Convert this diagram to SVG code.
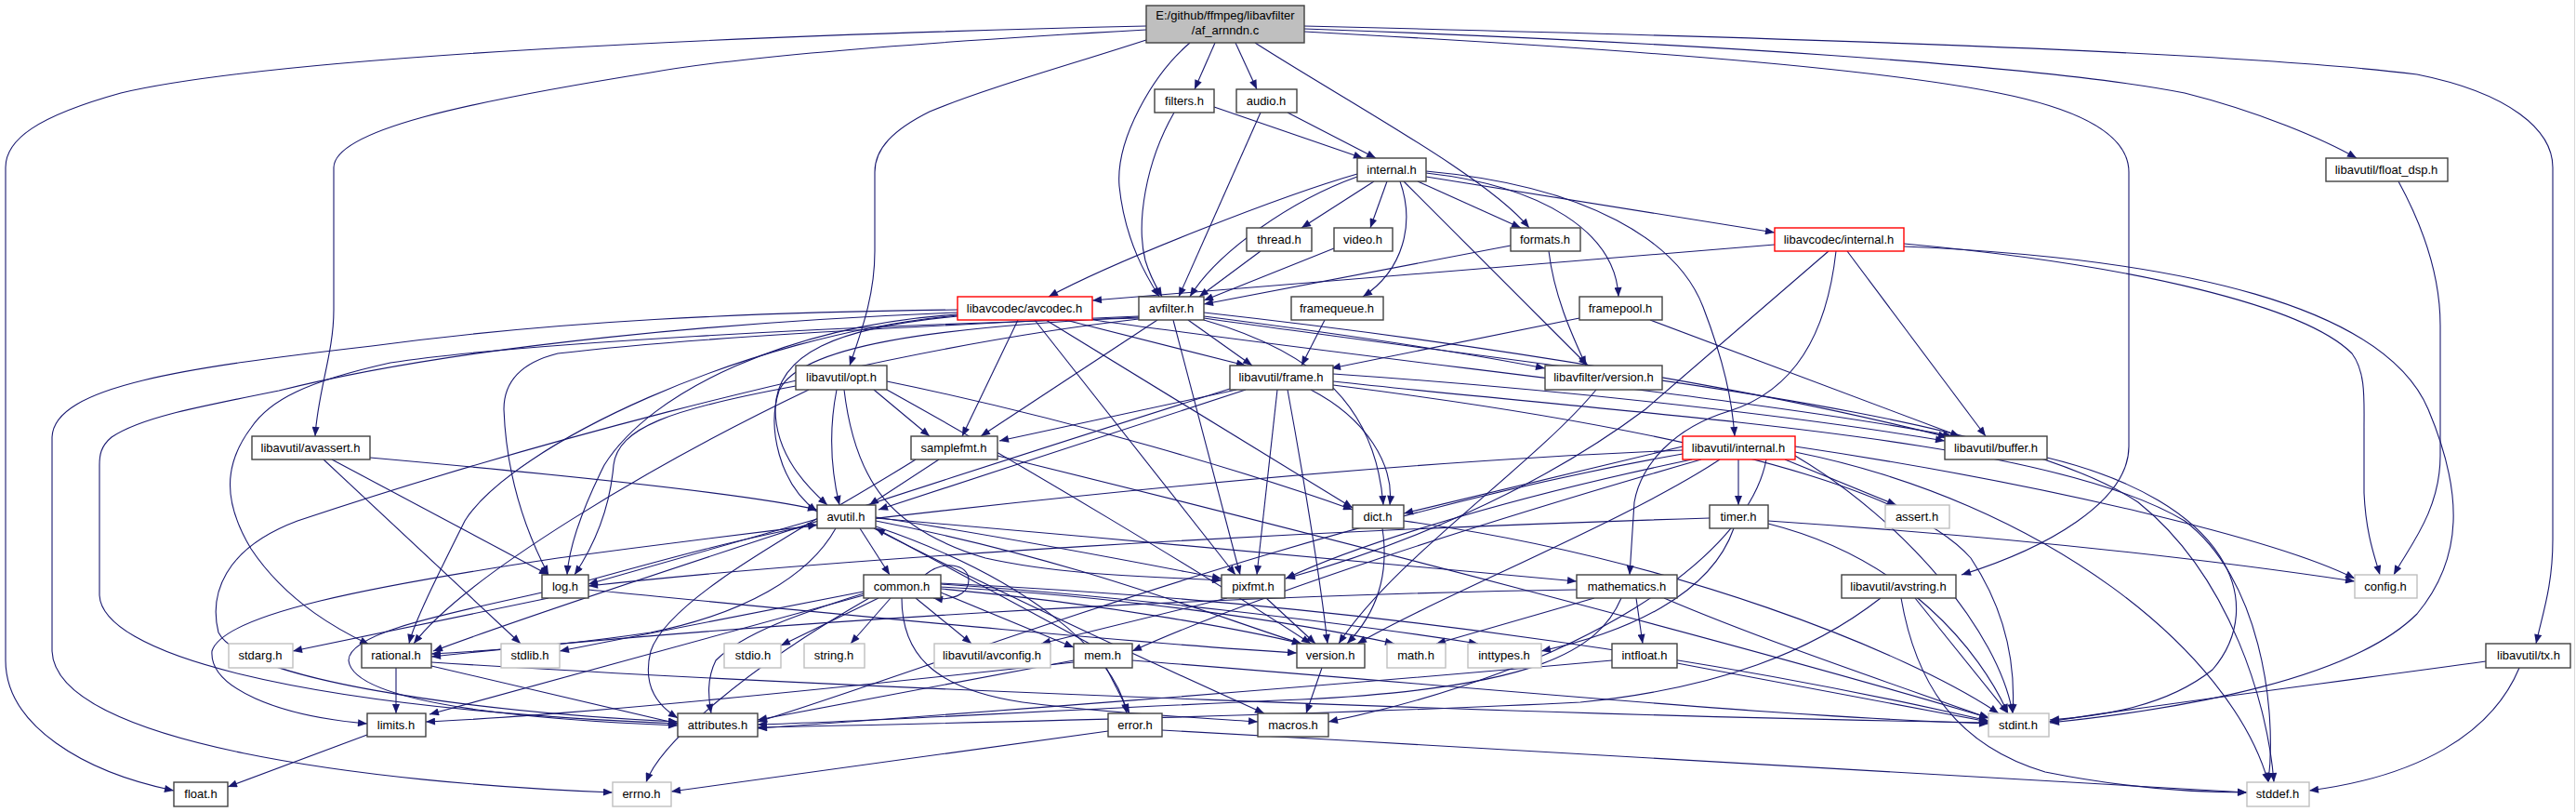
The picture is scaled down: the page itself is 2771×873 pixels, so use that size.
<svg xmlns="http://www.w3.org/2000/svg" width="2771" height="873" viewBox="0 0 2771 873">
<style>
.n rect{fill:#ffffff;stroke:#404040;stroke-width:1.4}
.g rect{stroke:#bfbfbf}
.r rect{stroke:#ff0000}
.root rect{fill:#bfbfbf}
text{font-family:"Liberation Sans",Arial,sans-serif;font-size:13px;text-anchor:middle;fill:#000000}
#edges path{fill:none;stroke:#191970;stroke-width:1.1;marker-end:url(#a)}
</style>
<defs>
<marker id="a" viewBox="0 0 10 8" refX="10" refY="4" markerWidth="11" markerHeight="8" markerUnits="userSpaceOnUse" orient="auto">
<path d="M0,0 L10,4 L0,8 z" fill="#191970"/>
</marker>
</defs>
<rect x="0" y="0" width="2771" height="873" fill="#ffffff"/>
<line x1="2769.5" y1="0" x2="2769.5" y2="873" stroke="#d8d8d8" stroke-width="1"/>
<g id="edges">
<!-- root -->
<path d="M1233,28 C800,38 300,60 130,100 C40,125 6,150 6,180 L6,710 C6,780 90,830 187,850"/>
<path d="M1233,32 C1000,45 800,60 700,78 C500,110 360,140 359,180 L359,333 C359,380 342,420 339,469"/>
<path d="M1233,43 C1150,70 1060,95 1000,120 C960,140 941,160 941,185 L941,270 C941,320 925,360 914,393"/>
<path d="M1280,46 C1240,80 1200,150 1204,200 C1210,260 1235,300 1247,319"/>
<path d="M1307,46 L1285,96"/>
<path d="M1329,46 L1352,96"/>
<path d="M1350,46 C1450,110 1600,190 1645,245"/>
<path d="M1403,28 C1900,40 2400,55 2600,80 C2700,100 2746,140 2746,180 L2746,580 C2746,630 2735,660 2728,692"/>
<path d="M1403,31 C1800,45 2200,70 2350,100 C2430,120 2500,150 2535,170"/>
<path d="M1403,34 C1700,50 2000,70 2150,100 C2250,120 2290,150 2290,185 L2290,480 C2290,540 2200,590 2110,618"/>
<!-- filters / audio -->
<path d="M1263,121 C1232,175 1222,240 1232,280 C1238,300 1246,312 1250,319"/>
<path d="M1306,115 L1466,170"/>
<path d="M1356,121 L1268,319"/>
<path d="M1385,121 L1480,170"/>
<!-- internal.h -->
<path d="M1460,190 C1390,215 1310,270 1280,319"/>
<path d="M1460,187 C1380,210 1200,280 1128,319"/>
<path d="M1478,195 L1400,245"/>
<path d="M1492,195 L1474,245"/>
<path d="M1506,195 C1522,240 1510,290 1466,319"/>
<path d="M1510,195 L1708,393"/>
<path d="M1525,195 L1636,245"/>
<path d="M1534,186 C1660,200 1738,250 1741,319"/>
<path d="M1534,190 L1909,250"/>
<path d="M1534,184 C1710,200 1805,260 1832,330 C1855,390 1863,430 1866,469"/>
<!-- thread, video, formats -->
<path d="M1356,270 L1290,319"/>
<path d="M1435,267 L1295,323"/>
<path d="M1625,264 L1295,327"/>
<path d="M1666,270 C1672,320 1692,362 1706,393"/>
<!-- libavcodec/internal.h -->
<path d="M1909,263 L1175,323"/>
<path d="M1987,270 L2136,469"/>
<path d="M2048,262 C2300,285 2480,330 2530,380 C2545,400 2543,430 2543,460 L2543,530 C2545,575 2555,600 2560,618"/>
<path d="M2048,265 C2350,278 2565,330 2612,440 C2650,530 2650,600 2600,660 C2530,730 2350,762 2205,777"/>
<path d="M1975,270 C1965,360 1930,420 1860,442 C1800,460 1765,500 1758,540 L1753,618"/>
<path d="M1967,270 L1770,440 C1650,530 1500,590 1383,622"/>
<!-- libavcodec/avcodec.h -->
<path d="M1030,333 C800,336 600,345 400,372 C200,395 58,415 56,470 L56,700 C60,800 400,842 659,852"/>
<path d="M1030,336 C800,345 500,370 300,420 C200,440 150,450 120,470 C108,480 107,490 107,500 L107,640 C110,700 300,760 729,778"/>
<path d="M1095,344 L1035,469"/>
<path d="M1030,340 C900,352 835,380 834,440 C834,490 870,525 890,543"/>
<path d="M1030,338 C850,350 700,420 650,500 C625,550 612,590 610,618"/>
<path d="M1030,339 C800,360 550,480 500,560 C470,620 445,670 440,692"/>
<path d="M1113,344 L1329,618"/>
<path d="M1125,344 L1455,546"/>
<path d="M1146,344 L1340,393"/>
<path d="M1169,343 C1500,390 1900,430 2100,469"/>
<!-- avfilter.h -->
<path d="M1225,341 C1000,352 860,372 838,420 C825,460 838,520 879,550"/>
<path d="M1225,340 C1000,350 750,362 600,380 C560,390 542,410 542,440 C545,520 570,580 590,618"/>
<path d="M1225,342 C900,350 550,370 420,390 C330,410 290,430 270,460 C240,500 240,540 270,590 C310,650 370,680 397,693"/>
<path d="M1225,343 C900,380 500,500 320,560 C240,590 225,640 235,680 C260,730 500,765 729,776"/>
<path d="M1245,344 L1055,469"/>
<path d="M1262,344 L1334,618"/>
<path d="M1278,344 L1347,393"/>
<path d="M1295,340 C1450,360 1580,380 1662,396"/>
<path d="M1295,344 C1420,380 1480,440 1488,543"/>
<path d="M1295,342 C1700,400 2150,440 2300,540 C2400,620 2440,760 2446,841"/>
<path d="M1295,336 C1600,370 1900,420 2095,470"/>
<!-- framequeue, framepool -->
<path d="M1425,344 L1400,393"/>
<path d="M1775,344 L2108,469"/>
<path d="M1699,342 L1432,396"/>
<!-- opt.h -->
<path d="M870,419 C700,500 500,620 445,692"/>
<path d="M900,419 C890,470 895,510 903,543"/>
<path d="M954,410 C1150,450 1350,510 1455,548"/>
<path d="M856,415 C720,440 665,460 660,500 C655,560 630,600 618,618"/>
<path d="M908,419 C920,520 960,570 1060,600 C1150,620 1250,620 1314,624"/>
<path d="M940,419 L1000,469"/>
<path d="M954,419 C1100,500 1300,620 1410,692"/>
<!-- frame.h -->
<path d="M1434,410 C1800,450 2200,470 2350,560 C2430,620 2450,760 2440,841"/>
<path d="M1434,414 C1800,460 2050,520 2120,600 C2160,660 2168,720 2165,767"/>
<path d="M1340,419 L945,548"/>
<path d="M1434,402 C1700,420 1950,450 2092,474"/>
<path d="M1410,419 C1470,450 1500,500 1495,543"/>
<path d="M1323,418 C1000,520 600,650 466,700"/>
<path d="M1330,419 L1075,474"/>
<path d="M1374,419 L1352,618"/>
<path d="M1385,419 C1400,500 1420,620 1428,692"/>
<!-- libavfilter/version.h -->
<path d="M1717,419 C1650,500 1500,600 1440,692"/>
<!-- avassert.h -->
<path d="M348,494 L560,692"/>
<path d="M398,492 C600,510 800,530 879,548"/>
<path d="M357,494 L590,618"/>
<!-- samplefmt.h -->
<path d="M1073,490 C1400,570 1900,700 2140,772"/>
<path d="M1010,494 L935,543"/>
<path d="M985,494 C880,560 720,640 700,700 C690,740 710,760 729,772"/>
<!-- libavutil/internal.h -->
<path d="M1810,484 C1400,500 900,560 600,600 C400,630 240,660 228,700 C225,740 300,770 395,778"/>
<path d="M1931,490 C2050,560 2150,680 2165,767"/>
<path d="M1931,486 C2200,540 2400,700 2440,841"/>
<path d="M1920,494 L2040,543"/>
<path d="M1931,480 C2200,520 2450,580 2533,622"/>
<path d="M1810,488 C1400,560 1000,720 815,776"/>
<path d="M1870,494 L1870,543"/>
<path d="M1810,480 L1510,552"/>
<path d="M1900,494 C1880,600 1700,720 1429,776"/>
<path d="M1830,494 C1600,560 1350,640 1218,700"/>
<path d="M1820,494 C1600,540 1450,590 1383,622"/>
<path d="M1850,494 C1750,560 1550,640 1460,692"/>
<!-- buffer.h -->
<path d="M2202,492 C2400,540 2440,650 2380,720 C2330,760 2260,770 2205,774"/>
<!-- avutil.h -->
<path d="M925,568 L957,618"/>
<path d="M942,566 C1100,620 1200,700 1212,767"/>
<path d="M899,568 C870,620 800,660 700,680 C600,695 520,700 464,703"/>
<path d="M942,560 C1150,600 1300,660 1400,692"/>
<path d="M940,568 C1100,650 1300,740 1360,767"/>
<path d="M942,557 C1200,580 1500,605 1696,625"/>
<path d="M879,558 L633,628"/>
<path d="M942,556 C1100,580 1250,610 1314,622"/>
<!-- dict.h -->
<path d="M1510,560 C1800,600 2050,700 2150,767"/>
<path d="M1487,568 C1495,620 1480,660 1449,692"/>
<!-- timer.h -->
<path d="M1902,560 C2200,580 2400,605 2533,625"/>
<path d="M1865,568 C1840,640 1750,680 1658,700"/>
<path d="M1902,563 C2050,600 2130,700 2160,767"/>
<path d="M1839,557 C1400,570 900,600 633,630"/>
<!-- log.h -->
<path d="M590,643 L315,700"/>
<path d="M633,624 C720,600 800,578 879,564"/>
<path d="M583,637 C480,660 375,680 375,710 C380,760 600,775 729,780"/>
<path d="M633,634 C900,660 1200,690 1395,702"/>
<!-- common.h -->
<path d="M935,643 C800,720 710,800 695,841"/>
<path d="M1012,628 C1200,640 1450,670 1590,692"/>
<path d="M929,640 L462,768"/>
<path d="M1012,631 C1200,640 1400,670 1500,692"/>
<path d="M1012,627 C1500,650 1900,720 2139,775"/>
<path d="M945,643 L840,694"/>
<path d="M929,636 L602,700"/>
<path d="M958,643 L915,692"/>
<path d="M929,638 C860,660 800,680 770,710 C760,730 762,750 765,767"/>
<path d="M970,643 C970,700 1000,740 1100,755 C1200,768 1300,772 1353,776"/>
<path d="M1012,633 C1200,650 1350,680 1400,692"/>
<path d="M985,643 L1045,692"/>
<path d="M1012,637 L1155,696"/>
<path d="M995,618 C1015,602 1042,606 1042,624 C1042,640 1022,646 1004,643"/>
<!-- pixfmt.h -->
<path d="M1320,643 L1120,692"/>
<path d="M1362,643 L1415,692"/>
<!-- mathematics.h -->
<path d="M1790,643 C1900,690 2050,740 2139,772"/>
<path d="M1715,643 L1545,692"/>
<path d="M1744,643 C1720,700 1650,740 1400,752 C1100,765 950,775 815,779"/>
<path d="M1696,634 C1300,640 800,670 464,706"/>
<path d="M1760,643 L1767,692"/>
<!-- avstring.h -->
<path d="M2045,643 C2060,730 2100,800 2200,830 C2300,850 2380,852 2417,852"/>
<path d="M2060,643 L2160,767"/>
<path d="M2023,643 C1950,700 1850,740 1700,755 C1400,770 1000,778 815,782"/>
<!-- rational.h -->
<path d="M464,712 C900,740 1700,770 2139,777"/>
<path d="M426,718 L426,767"/>
<path d="M464,716 L729,778"/>
<!-- mem.h -->
<path d="M1155,712 C900,740 600,770 458,776"/>
<path d="M1218,710 C1600,740 1900,770 2139,778"/>
<path d="M1155,710 L815,774"/>
<path d="M1190,718 L1215,767"/>
<path d="M1172,692 L942,568"/>
<!-- version.h, intfloat.h, tx.h, error.h, limits.h, float_dsp.h -->
<path d="M1422,718 L1405,767"/>
<path d="M1804,713 C1950,740 2050,760 2139,776"/>
<path d="M1734,710 C1400,740 1000,770 815,783"/>
<path d="M2674,711 C2500,735 2300,760 2204,776"/>
<path d="M2710,718 C2680,790 2600,835 2484,850"/>
<path d="M1192,786 L722,851"/>
<path d="M1250,785 C1700,810 2200,840 2417,852"/>
<path d="M395,790 L245,846"/>
<path d="M2580,195 C2610,250 2625,300 2625,350 L2625,490 C2625,550 2590,590 2575,618"/>
</g>
<g id="n-root" class="n root"><rect x="1233" y="6" width="170" height="40"/><text x="1318" y="21">E:/github/ffmpeg/libavfilter</text><text x="1318" y="37">/af_arnndn.c</text></g>
<g id="n-filters" class="n"><rect x="1242" y="96" width="64" height="25"/><text x="1274" y="113">filters.h</text></g>
<g id="n-audio" class="n"><rect x="1330" y="96" width="65" height="25"/><text x="1362" y="113">audio.h</text></g>
<g id="n-internal" class="n"><rect x="1460" y="170" width="74" height="25"/><text x="1497" y="187">internal.h</text></g>
<g id="n-float_dsp" class="n"><rect x="2502" y="170" width="131" height="25"/><text x="2567" y="187">libavutil/float_dsp.h</text></g>
<g id="n-thread" class="n"><rect x="1341" y="245" width="70" height="25"/><text x="1376" y="262">thread.h</text></g>
<g id="n-video" class="n"><rect x="1435" y="245" width="63" height="25"/><text x="1466" y="262">video.h</text></g>
<g id="n-formats" class="n"><rect x="1625" y="245" width="75" height="25"/><text x="1662" y="262">formats.h</text></g>
<g id="n-lcint" class="n r"><rect x="1909" y="245" width="139" height="25"/><text x="1978" y="262">libavcodec/internal.h</text></g>
<g id="n-avcodec" class="n r"><rect x="1030" y="319" width="145" height="25"/><text x="1102" y="336">libavcodec/avcodec.h</text></g>
<g id="n-avfilter" class="n"><rect x="1225" y="319" width="70" height="25"/><text x="1260" y="336">avfilter.h</text></g>
<g id="n-framequeue" class="n"><rect x="1389" y="319" width="99" height="25"/><text x="1438" y="336">framequeue.h</text></g>
<g id="n-framepool" class="n"><rect x="1699" y="319" width="89" height="25"/><text x="1743" y="336">framepool.h</text></g>
<g id="n-opt" class="n"><rect x="856" y="393" width="98" height="26"/><text x="905" y="410">libavutil/opt.h</text></g>
<g id="n-frame" class="n"><rect x="1323" y="393" width="111" height="26"/><text x="1378" y="410">libavutil/frame.h</text></g>
<g id="n-lfversion" class="n"><rect x="1662" y="393" width="126" height="26"/><text x="1725" y="410">libavfilter/version.h</text></g>
<g id="n-avassert" class="n"><rect x="271" y="469" width="127" height="25"/><text x="334" y="486">libavutil/avassert.h</text></g>
<g id="n-samplefmt" class="n"><rect x="980" y="469" width="93" height="25"/><text x="1026" y="486">samplefmt.h</text></g>
<g id="n-luint" class="n r"><rect x="1810" y="469" width="121" height="25"/><text x="1870" y="486">libavutil/internal.h</text></g>
<g id="n-buffer" class="n"><rect x="2092" y="469" width="110" height="25"/><text x="2147" y="486">libavutil/buffer.h</text></g>
<g id="n-avutil" class="n"><rect x="879" y="543" width="63" height="25"/><text x="910" y="560">avutil.h</text></g>
<g id="n-dict" class="n"><rect x="1455" y="543" width="55" height="25"/><text x="1482" y="560">dict.h</text></g>
<g id="n-timer" class="n"><rect x="1839" y="543" width="63" height="25"/><text x="1870" y="560">timer.h</text></g>
<g id="n-assert" class="n g"><rect x="2028" y="543" width="69" height="25"/><text x="2062" y="560">assert.h</text></g>
<g id="n-log" class="n"><rect x="583" y="618" width="50" height="25"/><text x="608" y="635">log.h</text></g>
<g id="n-common" class="n"><rect x="929" y="618" width="83" height="25"/><text x="970" y="635">common.h</text></g>
<g id="n-pixfmt" class="n"><rect x="1314" y="618" width="68" height="25"/><text x="1348" y="635">pixfmt.h</text></g>
<g id="n-mathematics" class="n"><rect x="1696" y="618" width="108" height="25"/><text x="1750" y="635">mathematics.h</text></g>
<g id="n-avstring" class="n"><rect x="1981" y="618" width="123" height="25"/><text x="2042" y="635">libavutil/avstring.h</text></g>
<g id="n-config" class="n g"><rect x="2533" y="618" width="67" height="25"/><text x="2566" y="635">config.h</text></g>
<g id="n-stdarg" class="n g"><rect x="246" y="692" width="69" height="26"/><text x="280" y="709">stdarg.h</text></g>
<g id="n-rational" class="n"><rect x="389" y="692" width="75" height="26"/><text x="426" y="709">rational.h</text></g>
<g id="n-stdlib" class="n g"><rect x="539" y="692" width="63" height="26"/><text x="570" y="709">stdlib.h</text></g>
<g id="n-stdio" class="n g"><rect x="779" y="692" width="61" height="26"/><text x="810" y="709">stdio.h</text></g>
<g id="n-string" class="n g"><rect x="865" y="692" width="65" height="26"/><text x="897" y="709">string.h</text></g>
<g id="n-avconfig" class="n g"><rect x="1005" y="692" width="125" height="26"/><text x="1067" y="709">libavutil/avconfig.h</text></g>
<g id="n-mem" class="n"><rect x="1155" y="692" width="63" height="26"/><text x="1186" y="709">mem.h</text></g>
<g id="n-version" class="n"><rect x="1395" y="692" width="73" height="26"/><text x="1431" y="709">version.h</text></g>
<g id="n-math" class="n g"><rect x="1492" y="692" width="63" height="26"/><text x="1523" y="709">math.h</text></g>
<g id="n-inttypes" class="n g"><rect x="1579" y="692" width="79" height="26"/><text x="1618" y="709">inttypes.h</text></g>
<g id="n-intfloat" class="n"><rect x="1734" y="692" width="70" height="26"/><text x="1769" y="709">intfloat.h</text></g>
<g id="n-tx" class="n"><rect x="2674" y="692" width="91" height="26"/><text x="2720" y="709">libavutil/tx.h</text></g>
<g id="n-attributes" class="n"><rect x="729" y="767" width="86" height="25"/><text x="772" y="784">attributes.h</text></g>
<g id="n-limits" class="n"><rect x="395" y="767" width="63" height="25"/><text x="426" y="784">limits.h</text></g>
<g id="n-error" class="n"><rect x="1192" y="767" width="58" height="25"/><text x="1221" y="784">error.h</text></g>
<g id="n-macros" class="n"><rect x="1353" y="767" width="76" height="25"/><text x="1391" y="784">macros.h</text></g>
<g id="n-stdint" class="n g"><rect x="2139" y="767" width="65" height="25"/><text x="2171" y="784">stdint.h</text></g>
<g id="n-float" class="n"><rect x="187" y="841" width="58" height="26"/><text x="216" y="858">float.h</text></g>
<g id="n-errno" class="n g"><rect x="659" y="841" width="63" height="26"/><text x="690" y="858">errno.h</text></g>
<g id="n-stddef" class="n g"><rect x="2417" y="841" width="67" height="26"/><text x="2450" y="858">stddef.h</text></g>
</svg>
